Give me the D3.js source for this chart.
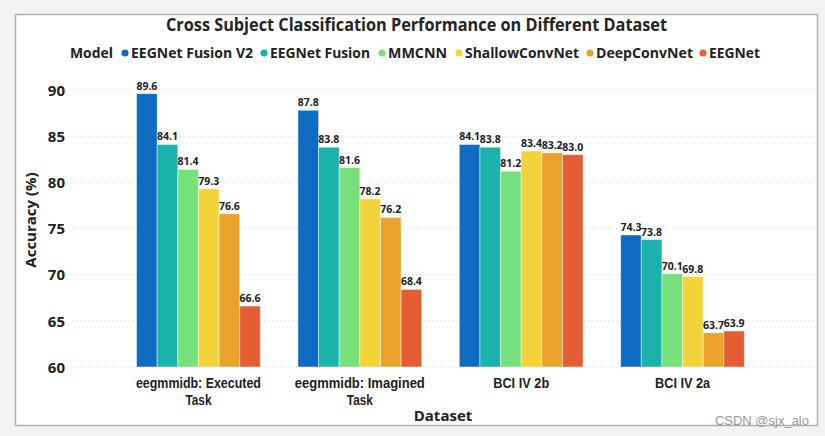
<!DOCTYPE html>
<html><head><meta charset="utf-8">
<script src="https://cdn.jsdelivr.net/npm/d3@7"></script>
<style>
html,body{margin:0;padding:0;background:#f3f3f3;}
svg{display:block;}
text{font-family:"Open Sans","Noto Sans",sans-serif;}
</style></head>
<body>
<svg id="chart" width="825" height="436"></svg>
<script>
const categories = [["eegmmidb: Executed","Task"],["eegmmidb: Imagined","Task"],["BCI IV 2b"],["BCI IV 2a"]];
const models = ["EEGNet Fusion V2","EEGNet Fusion","MMCNN","ShallowConvNet","DeepConvNet","EEGNet"];
const colors = ["#0f6bc1","#1ab2ab","#76e07c","#f2d33a","#e9a22c","#e35f33"];
const executed = [89.6, 84.1, 81.4, 79.3, 76.6, 66.6];
const imagined = [87.8, 83.8, 81.6, 78.2, 76.2, 68.4];
const bci2b    = [84.1, 83.8, 81.2, 83.4, 83.2, 83.0];
const bci2a    = [74.3, 73.8, 70.1, 69.8, 63.7, 63.9];
const yTicks = [60, 65, 70, 75, 80, 85, 90];

const seriesByCat = [executed, imagined, bci2b, bci2a];
const catKeys = categories.map(c => c.join(" "));

const svg = d3.select("#chart");
// panel
svg.append("rect").attr("x",15.5).attr("y",14.5).attr("width",802).attr("height",411)
  .attr("fill","#fff").attr("stroke","#b0b0b0").attr("stroke-width",1.5);

const x0 = d3.scaleBand().domain(catKeys).range([72, 809]).paddingInner(0.233).paddingOuter(0.4);
const x1 = d3.scaleBand().domain(models).range([0, x0.bandwidth()]);
const y = d3.scaleLinear().domain([60, 90]).range([367, 90]);
const color = d3.scaleOrdinal().domain(models).range(colors);

function fit(sel, w){ sel.attr("textLength", w).attr("lengthAdjust","spacingAndGlyphs"); }

// grid
svg.append("g").selectAll("line").data(yTicks).join("line")
  .attr("x1",72).attr("x2",813).attr("y1",d=>y(d)).attr("y2",d=>y(d))
  .attr("stroke","#cfcfcf").attr("stroke-width",1).attr("stroke-dasharray","1,3");

// y axis labels
const yAxis = d3.axisLeft(y).tickValues(yTicks).tickSize(0).tickPadding(0);
const gy = svg.append("g").attr("transform","translate(65,0)").call(yAxis);
gy.select(".domain").remove();
gy.selectAll("text").attr("font-size",15).attr("font-weight",700).attr("fill","#222")
  .style("font-family","'Open Sans',sans-serif").attr("dy","0.35em");

// bars
const groups = svg.append("g").selectAll("g").data(catKeys).join("g")
  .attr("transform", d => `translate(${x0(d)},0)`);
groups.each(function(cat, ci){
  const g = d3.select(this);
  const vals = seriesByCat[ci].map((v,i)=>({m:models[i], v}));
  g.selectAll("rect").data(vals).join("rect")
    .attr("x", d=>x1(d.m)).attr("width", x1.bandwidth())
    .attr("y", d=>y(d.v)).attr("height", d=>y(60)-y(d.v))
    .attr("fill", d=>color(d.m)).attr("stroke","rgba(255,255,255,0.45)").attr("stroke-width",1);
  g.selectAll("text").data(vals).join("text")
    .attr("x", d=>x1(d.m)+x1.bandwidth()/2).attr("y", d=>y(d.v)-4)
    .attr("text-anchor","middle").attr("font-size",11).attr("font-weight",700).attr("fill","#222")
    .text(d=>d.v.toFixed(1)).each(function(){ fit(d3.select(this), 21); });
});

// x axis labels
const lineWidths = {"eegmmidb: Executed":125, "eegmmidb: Imagined":130, "Task":26, "BCI IV 2b":56, "BCI IV 2a":55};
const xAxis = d3.axisBottom(x0).tickSize(0).tickFormat("");
const gx = svg.append("g").attr("transform","translate(0,367)").call(xAxis);
gx.select(".domain").remove();
gx.selectAll(".tick").each(function(d, i){
  categories[i].forEach((line, j) => {
    const t = d3.select(this).append("text").attr("text-anchor","middle").attr("fill","#222")
      .style("font-family","'Liberation Sans',Arial,sans-serif")
      .attr("font-size",14).attr("font-weight",700)
      .attr("x",0).attr("y", 21 + j*16.5).text(line);
    fit(t, lineWidths[line]);
  });
});

// axis titles
svg.append("text").attr("x",443).attr("y",421).attr("text-anchor","middle")
  .attr("font-size",15).attr("font-weight",700).attr("fill","#222").text("Dataset");
svg.append("text").attr("transform","translate(36,220) rotate(-90)").attr("text-anchor","middle")
  .attr("font-size",15).attr("font-weight",700).attr("fill","#222").text("Accuracy (%)");

// title
const title = svg.append("text").attr("x",166).attr("y",31)
  .attr("font-size",18).attr("font-weight",700).attr("fill","#252525")
  .text("Cross Subject Classification Performance on Different Dataset");
fit(title, 501);

// legend
const legendLabelX = [131, 270, 388, 465, 596, 709];
const legendLabelW = [122, 100, 59, 114, 97, 51];
const ml = svg.append("text").attr("x",70).attr("y",58).attr("font-size",15).attr("font-weight",700)
  .attr("fill","#222").text("Model");
fit(ml, 43);
const lg = svg.append("g").selectAll("g").data(models).join("g");
lg.append("circle").attr("cx",(d,i)=>legendLabelX[i]-6).attr("cy",53).attr("r",3.6).attr("fill",d=>color(d));
lg.append("text").attr("x",(d,i)=>legendLabelX[i]).attr("y",58).attr("font-size",15).attr("font-weight",700)
  .attr("fill","#222").text(d=>d).each(function(d,i){ fit(d3.select(this), legendLabelW[i]); });

// watermark
svg.append("text").attr("x",809).attr("y",425).attr("text-anchor","end")
  .style("font-family","'Liberation Sans',Arial,sans-serif").attr("font-size",13).attr("fill","#9a9a9a")
  .text("CSDN @sjx_alo");
</script>
</body></html>
